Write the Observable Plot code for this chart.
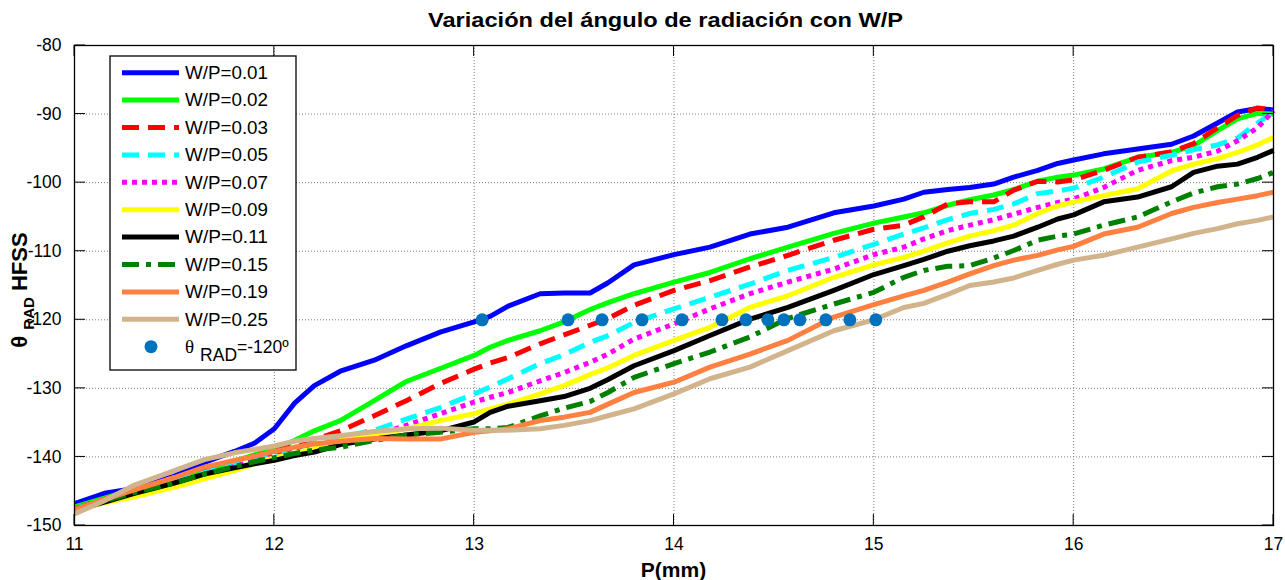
<!DOCTYPE html>
<html>
<head>
<meta charset="utf-8">
<script src="https://cdn.jsdelivr.net/npm/d3@7"></script>
<script src="https://cdn.jsdelivr.net/npm/@observablehq/plot@0.6"></script>
<style>
  body { margin: 0; background: #fff; font-family: "Liberation Sans", Arial, sans-serif; }
  #wrap { width: 1285px; height: 580px; position: relative; overflow: hidden; }
  #chart { position: absolute; left: 0; top: 0; }
  #title { position: absolute; left: 0; top: 0; }
</style>
</head>
<body>
<div id="wrap">
  <div id="chart"></div>
  <svg id="title" width="1285" height="40"></svg>
</div>
<script>
// Grating period P (mm) at which every curve was sampled
const P = [11.0, 11.15, 11.3, 11.5, 11.65, 11.8, 11.9, 12.0, 12.1, 12.2, 12.33, 12.5, 12.66, 12.83,
  13.0, 13.08, 13.17, 13.33, 13.45, 13.58, 13.67, 13.8, 14.0, 14.18, 14.38, 14.57, 14.8,
  15.0, 15.15, 15.25, 15.37, 15.48, 15.6, 15.7, 15.82, 15.92, 16.0, 16.15, 16.32, 16.49,
  16.6, 16.72, 16.82, 16.92, 17.0];

// Radiation angle θ_RAD (degrees, HFSS) for each W/P ratio
const wp001 = [-146.8, -145.3, -144.6, -142.8, -140.8, -139.2, -138.0, -135.9, -132.2, -129.6, -127.5, -125.9, -123.8, -121.8,
  -120.3, -119.5, -118.0, -116.2, -116.1, -116.1, -114.6, -112.0, -110.5, -109.4, -107.5, -106.5, -104.4,
  -103.4, -102.4, -101.4, -101.0, -100.7, -100.2, -99.2, -98.2, -97.2, -96.7, -95.8, -95.1, -94.4,
  -93.2, -91.3, -89.7, -89.2, -89.4];
const wp002 = [-147.3, -146.0, -144.7, -143.2, -141.8, -140.6, -139.7, -138.9, -137.6, -136.2, -134.7, -131.8, -129.0, -127.1,
  -125.2, -124.0, -123.0, -121.6, -120.3, -118.5, -117.5, -116.2, -114.5, -113.1, -111.1, -109.4, -107.4,
  -105.9, -105.0, -104.4, -103.3, -102.5, -101.8, -101.0, -99.8, -99.2, -98.9, -98.0, -96.3, -95.6,
  -94.6, -92.4, -90.7, -89.9, -90.0];
const wp003 = [-147.5, -146.2, -144.9, -143.4, -142.0, -140.8, -139.9, -139.2, -138.4, -137.5, -136.2, -134.0, -131.8, -129.3,
  -127.2, -126.3, -125.5, -123.5, -122.2, -120.8, -119.8, -117.9, -115.7, -114.3, -112.3, -110.6, -108.4,
  -106.8, -106.2, -105.0, -103.1, -102.8, -102.8, -101.1, -99.8, -99.9, -99.6, -98.2, -96.3, -95.5,
  -94.3, -92.0, -90.2, -89.1, -89.4];
const wp005 = [-147.5, -146.3, -145.0, -143.6, -142.3, -141.0, -140.2, -139.5, -138.8, -138.0, -137.1, -136.1, -134.5, -132.8,
  -130.8, -129.8, -128.6, -126.4, -125.1, -123.3, -122.3, -120.4, -118.4, -116.7, -114.8, -112.8, -110.9,
  -109.0, -107.5, -106.6, -105.4, -104.5, -103.9, -103.1, -101.6, -101.2, -100.8, -99.2, -97.0, -96.0,
  -95.2, -94.5, -93.5, -91.3, -89.7];
const wp007 = [-147.6, -146.4, -145.2, -143.8, -142.6, -141.4, -140.6, -139.8, -139.2, -138.5, -137.6, -136.9, -135.4, -133.7,
  -132.0, -131.3, -130.6, -128.9, -127.7, -126.2, -125.0, -122.8, -120.6, -118.4, -116.2, -114.5, -112.6,
  -110.5, -109.4, -108.2, -107.0, -106.2, -105.4, -104.6, -103.6, -102.9, -102.4, -100.7, -98.2, -96.8,
  -96.3, -95.4, -93.9, -92.0, -89.5];
const wp009 = [-147.8, -146.7, -145.8, -144.4, -143.2, -142.0, -141.0, -140.1, -139.5, -138.8, -137.6, -136.7, -135.9, -134.7,
  -133.7, -133.0, -132.3, -130.8, -129.6, -128.0, -127.0, -125.2, -123.0, -121.1, -118.2, -116.5, -113.8,
  -112.0, -110.9, -110.0, -108.8, -107.8, -107.0, -106.2, -104.5, -103.4, -102.8, -101.9, -100.9, -98.3,
  -97.3, -96.5, -95.6, -94.5, -93.4];
const wp011 = [-147.8, -146.6, -145.3, -143.8, -142.5, -141.6, -141.0, -140.5, -139.8, -139.3, -138.2, -137.4, -136.8, -136.2,
  -134.9, -133.5, -132.6, -131.8, -131.2, -130.0, -128.7, -126.7, -124.5, -122.3, -119.9, -118.2, -115.7,
  -113.4, -112.1, -111.2, -110.0, -109.2, -108.5, -107.8, -106.5, -105.3, -104.7, -102.8, -102.1, -100.6,
  -98.5, -97.6, -97.3, -96.3, -95.3];
const wp015 = [-147.6, -146.4, -145.2, -143.8, -142.5, -141.4, -140.7, -140.1, -139.5, -139.0, -138.6, -137.6, -136.8, -136.4,
  -135.9, -135.9, -135.7, -134.0, -132.9, -131.9, -130.6, -128.4, -126.4, -124.7, -122.5, -119.8, -117.7,
  -116.0, -113.8, -112.8, -112.2, -112.1, -111.0, -109.9, -108.4, -107.8, -107.5, -106.2, -105.0, -102.8,
  -101.5, -100.6, -100.2, -99.4, -98.5];
const wp019 = [-147.7, -146.2, -144.8, -143.0, -141.5, -140.5, -139.9, -139.2, -138.6, -138.1, -137.7, -137.3, -137.4, -137.4,
  -136.4, -136.2, -135.9, -134.7, -134.2, -133.5, -132.3, -130.6, -129.1, -126.9, -125.0, -123.0, -119.6,
  -117.8, -116.5, -115.7, -114.5, -113.3, -112.1, -111.3, -110.6, -109.8, -109.3, -107.5, -106.5, -104.5,
  -103.6, -102.9, -102.4, -101.9, -101.4];
const wp025 = [-148.3, -146.4, -144.1, -142.0, -140.4, -139.4, -138.9, -138.4, -137.7, -137.3, -136.9, -136.3, -135.9, -135.8,
  -136.1, -136.1, -136.1, -135.9, -135.4, -134.7, -134.0, -133.0, -130.8, -128.6, -126.9, -124.5, -121.6,
  -120.0, -118.2, -117.6, -116.3, -115.0, -114.5, -113.9, -112.8, -111.9, -111.3, -110.6, -109.4, -108.2,
  -107.4, -106.7, -106.0, -105.5, -105.0];

const seriesValues = [wp001, wp002, wp003, wp005, wp007, wp009, wp011, wp015, wp019, wp025];
const seriesLabels = ["W/P=0.01", "W/P=0.02", "W/P=0.03", "W/P=0.05", "W/P=0.07",
  "W/P=0.09", "W/P=0.11", "W/P=0.15", "W/P=0.19", "W/P=0.25"];
const seriesColors = ["#0000ff", "#00ff00", "#ff0000", "#00ffff", "#ff00ff",
  "#ffff00", "#000000", "#008000", "#ff8040", "#d2b48c"];
const seriesDash = [null, null, "17,9", "17,9", "5,5", null, null, "17,7,5,7", null, null];

// Periods at which each curve crosses θ_RAD = -120°
const crossP = [13.04, 13.47, 13.64, 13.84, 14.04, 14.24, 14.36, 14.47, 14.55, 14.63, 14.76, 14.88, 15.01];
const crossTheta = [-120, -120, -120, -120, -120, -120, -120, -120, -120, -120, -120, -120, -120];
const crossLabel = "=-120º";

const xTicks = [11, 12, 13, 14, 15, 16, 17];
const yTicks = [-150, -140, -130, -120, -110, -100, -90, -80];

const titleText = "Variación del ángulo de radiación con W/P";
const xLabel = "P(mm)";

const font = "'Liberation Sans', Arial, sans-serif";
const lineWidth = 5;
const dotColor = "#0072bd";

const lineMarks = seriesValues.map((vals, k) =>
  Plot.line(P.map((p, i) => ({P: p, theta: vals[i]})), {
    x: "P", y: "theta",
    stroke: seriesColors[k],
    strokeWidth: lineWidth,
    strokeDasharray: seriesDash[k],
    strokeLinecap: "butt",
    strokeLinejoin: "round"
  })
);

const crossings = crossP.map((p, i) => ({P: p, theta: crossTheta[i]}));

const chart = Plot.plot({
  width: 1285,
  height: 580,
  marginTop: 45,
  marginBottom: 55,
  marginLeft: 74,
  marginRight: 12,
  style: {fontFamily: font, fontSize: "17px", color: "#000", background: "#fff"},
  x: {domain: [11, 17]},
  y: {domain: [-150, -80]},
  marks: [
    Plot.gridX(xTicks, {stroke: "#6e6e6e", strokeOpacity: 1, strokeWidth: 0.9, strokeDasharray: "1,2"}),
    Plot.gridY(yTicks, {stroke: "#6e6e6e", strokeOpacity: 1, strokeWidth: 0.9, strokeDasharray: "1,2"}),
    Plot.axisX(xTicks, {tickSize: 0, tickPadding: 12, label: null, tickFormat: d => String(d), fontSize: 17.5}),
    Plot.axisY(yTicks, {tickSize: 0, tickPadding: 13, label: null, tickFormat: d => String(d), fontSize: 17.5}),
    ...lineMarks,
    Plot.dot(crossings, {x: "P", y: "theta", r: 6.5, fill: dotColor, stroke: "none"}),
    Plot.frame({stroke: "#000", strokeWidth: 1.3})
  ]
});

document.getElementById("chart").appendChild(chart);

// ---- decorations drawn in pixel space on top of the plot ----
const svg = d3.select(chart);
const sx = chart.scale("x"), sy = chart.scale("y");
const [x0, x1] = sx.range;
const [yb, yt] = sy.range;      // bottom, top
const tickLen = 11;

// inward ticks on all four sides of the box
const tg = svg.append("g").attr("stroke", "#000").attr("stroke-width", 1);
xTicks.forEach(t => {
  const x = sx.apply(t);
  tg.append("line").attr("x1", x).attr("x2", x).attr("y1", yb).attr("y2", yb - tickLen);
  tg.append("line").attr("x1", x).attr("x2", x).attr("y1", yt).attr("y2", yt + tickLen);
});
yTicks.forEach(t => {
  const y = sy.apply(t);
  tg.append("line").attr("x1", x0).attr("x2", x0 + tickLen).attr("y1", y).attr("y2", y);
  tg.append("line").attr("x1", x1).attr("x2", x1 - tickLen).attr("y1", y).attr("y2", y);
});

// x axis label
svg.append("text")
  .attr("x", (x0 + x1) / 2).attr("y", 577)
  .attr("text-anchor", "middle")
  .attr("font-family", font).attr("font-weight", "bold").attr("font-size", 21)
  .text(xLabel);

// y axis label: θ_RAD HFSS, rotated
const yl = svg.append("text")
  .attr("transform", `translate(27,${(yb + yt) / 2 + 5}) rotate(-90)`)
  .attr("text-anchor", "middle")
  .attr("font-family", font).attr("font-weight", "bold").attr("font-size", 22);
yl.append("tspan").text("θ ");
yl.append("tspan").attr("font-size", 15).attr("dy", 7).text("RAD");
yl.append("tspan").attr("dy", -7).text(" HFSS");

// legend box
const lg = svg.append("g").attr("text-anchor", "start");
const lx = 110, ly = 56, lw = 186, lh = 314;
lg.append("rect").attr("x", lx).attr("y", ly).attr("width", lw).attr("height", lh)
  .attr("fill", "#fff").attr("stroke", "#000").attr("stroke-width", 1.3);
const rowY = i => 72.7 + i * 27.4;
seriesLabels.forEach((lab, k) => {
  const y = rowY(k);
  lg.append("line").attr("x1", 122).attr("x2", 179).attr("y1", y).attr("y2", y)
    .attr("stroke", seriesColors[k]).attr("stroke-width", lineWidth)
    .attr("stroke-dasharray", seriesDash[k]);
  lg.append("text").attr("x", 185).attr("y", y).attr("dy", "0.36em")
    .attr("text-anchor", "start")
    .attr("font-family", font).attr("font-size", 17.5)
    .attr("textLength", 83).attr("lengthAdjust", "spacingAndGlyphs")
    .text(lab);
});
{
  const y = rowY(seriesLabels.length);
  lg.append("circle").attr("cx", 151).attr("cy", y).attr("r", 6.5).attr("fill", dotColor);
  const t = lg.append("text").attr("x", 185).attr("y", y).attr("dy", "0.36em")
    .attr("text-anchor", "start")
    .attr("font-family", font).attr("font-size", 17.5);
  t.append("tspan").attr("font-family", "'Liberation Serif', serif").attr("font-size", 19).text("θ");
  t.append("tspan").attr("dx", 6).attr("dy", 8).text("RAD");
  t.append("tspan").attr("dy", -8).text(crossLabel);
}

// title
d3.select("#title").append("text")
  .attr("x", 665.5).attr("y", 27.3)
  .attr("text-anchor", "middle")
  .attr("font-family", font).attr("font-weight", "bold").attr("font-size", 19.5)
  .attr("textLength", 475).attr("lengthAdjust", "spacingAndGlyphs")
  .text(titleText);
</script>
</body>
</html>
